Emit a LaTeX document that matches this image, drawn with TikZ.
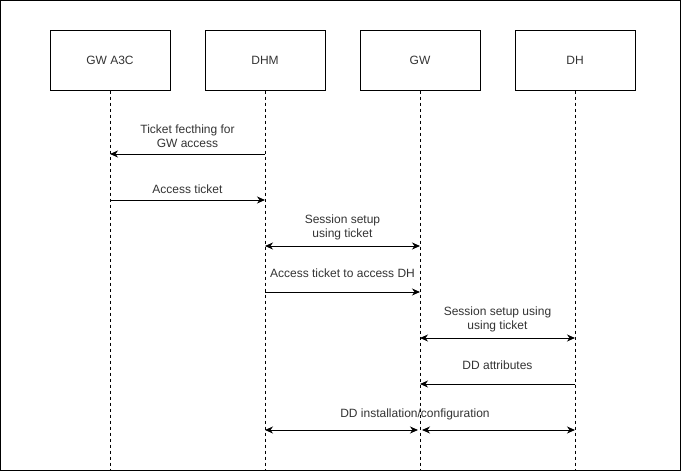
\documentclass[tikz,border=0pt]{standalone}
\usepackage{fontspec}
\setmainfont{Liberation Sans}
\usepackage{tikz}
\usetikzlibrary{arrows.meta,positioning,calc}

\begin{document}
\begin{tikzpicture}[
        x=1pt, y=-1pt,
        font=\fontsize{12}{14}\selectfont,
        actor/.style={
            draw, line width=1pt, text=black!80,
            minimum width=120pt, minimum height=60pt,
            inner sep=0pt
        },
        lifeline/.style={line width=0.8pt, dash pattern=on 3pt off 3pt},
        msg/.style={-{Stealth[length=8pt,width=7pt,inset=2.5pt]}, line width=1pt},
        dblmsg/.style={{Stealth[length=8pt,width=7pt,inset=2.5pt]}-{Stealth[length=8pt,width=7pt,inset=2.5pt]}, line width=1pt},
        lbl/.style={anchor=south, inner sep=0pt, yshift=6pt, align=center, text=black!80},
        hilbl/.style={lbl, yshift=8pt}
    ]

    \useasboundingbox (0,0) rectangle (681,471);
    \draw[line width=1pt] (0.5,0.5) rectangle (680.5,470.5);

    % Participants
    \node[actor] (gwa3c) at (110,60) {GW A3C};
    \node[actor] (dhm) at (265,60) {DHM};
    \node[actor] (gw) at (420,60) {GW};
    \node[actor] (dh) at (575,60) {DH};

    % Message rows on each lifeline
    \foreach \l/\x in {gwa3c/110, dhm/265, gw/420, dh/575} {
        \coordinate (\l-end) at (\x,470);
        \foreach \r/\y in {1/154, 2/200, 3/246, 4/292, 5/338, 6/384, 7/430}
            \coordinate (\l\r) at (\x,\y);
    }

    % Lifelines
    \foreach \l in {gwa3c, dhm, gw, dh}
        \draw[lifeline] (\l.south) -- (\l-end);

    % Messages
    \draw[msg] (dhm1) -- node[lbl] {Ticket fecthing for\\GW access} (gwa3c1);
    \draw[msg] (gwa3c2) -- node[lbl] {Access ticket} (dhm2);
    \draw[dblmsg] (dhm3) -- node[lbl] {Session setup\\using ticket} (gw3);
    \draw[msg] (dhm4) -- node[hilbl] {Access ticket to access DH} (gw4);
    \draw[dblmsg] (gw5) -- node[lbl] {Session setup using\\using ticket} (dh5);
    \draw[msg] (dh6) -- node[hilbl] {DD attributes} (gw6);
    \draw[dblmsg, shorten >=2pt] (dhm7) -- (gw7);
    \draw[dblmsg, shorten <=2pt] (gw7) -- (dh7);
    \node[lbl, yshift=4pt] (ddlbl) at ($(gw7)+(-5,0)$) {DD installation/configuration};

\end{tikzpicture}
\end{document}
